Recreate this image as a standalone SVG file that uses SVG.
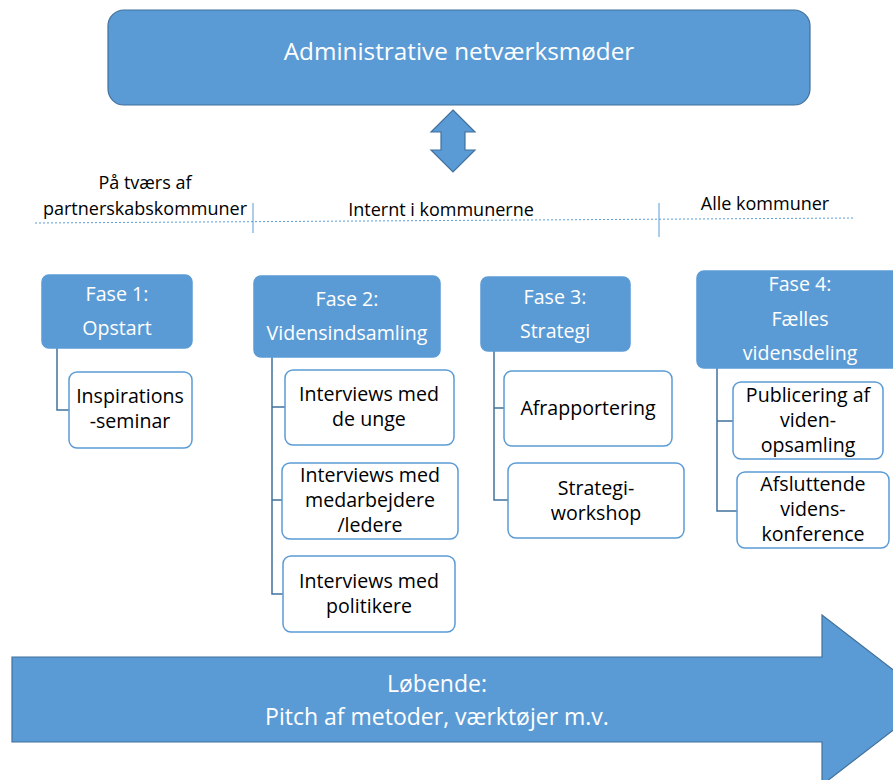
<svg xmlns="http://www.w3.org/2000/svg" width="893" height="780" viewBox="0 0 893 780">
<style>
.phase{fill:#5B9BD5;stroke:#5B9BD5;stroke-width:1.5}
.item{fill:#FFFFFF;stroke:#5B9BD5;stroke-width:1.5}
.big{fill:#5B9BD5;stroke:#41719C;stroke-width:1.2}
.wt{fill:#FFFFFF;font-family:"Open Sans","Liberation Sans",sans-serif;text-anchor:middle}
.bt{fill:#000000;font-family:"Open Sans","Liberation Sans",sans-serif;text-anchor:middle;font-size:19.6px}
.lbl{fill:#000000;font-family:"Open Sans","Liberation Sans",sans-serif;text-anchor:middle;font-size:18px}
.conn{fill:none;stroke:#41719C;stroke-width:1.5}
.sep{fill:none;stroke:#5B9BD5;stroke-width:1}
.dash{fill:none;stroke:#5B9BD5;stroke-width:1;stroke-dasharray:2 2}
</style>
<g id="top">
<rect class="big" x="108" y="10" width="702" height="95" rx="16"/>
<text class="wt" x="459" y="60" font-size="24.3">Administrative netværksmøder</text>
</g>
<g id="dblarrow">
<polygon class="big" points="453,110 475,132 465,132 465,150 475,150 453,172 431,150 441,150 441,132 431,132"/>
</g>
<g id="labels">
<text class="lbl" x="145" y="189">På tværs af</text>
<text class="lbl" x="145" y="215">partnerskabskommuner</text>
<text class="lbl" x="441" y="216">Internt i kommunerne</text>
<text class="lbl" x="765" y="210">Alle kommuner</text>
<path class="dash" d="M35,223 L855,218"/>
<path class="sep" d="M253,203 V233 M659,203 V237"/>
</g>
<g id="connectors">
<path class="conn" d="M57,348 V410 H69"/>
<path class="conn" d="M272,357 V594 H283 M272,407 H285 M272,500 H282"/>
<path class="conn" d="M494,351 V500 H508 M494,408 H504"/>
<path class="conn" d="M717,368 V511 H737 M717,421 H733"/>
</g>
<g id="fase1">
<rect class="phase" x="42" y="275" width="150" height="73" rx="7"/>
<text class="wt" x="117" y="301" font-size="19.6">Fase 1:</text>
<text class="wt" x="117" y="335" font-size="19.6">Opstart</text>
</g>
<g id="inspiration">
<rect class="item" x="69" y="372" width="123" height="76" rx="8"/>
<text class="bt" x="130" y="403">Inspirations</text>
<text class="bt" x="130" y="428">-seminar</text>
</g>
<g id="fase2">
<rect class="phase" x="254" y="276" width="186" height="81" rx="7"/>
<text class="wt" x="347" y="306" font-size="19.6">Fase 2:</text>
<text class="wt" x="347" y="340" font-size="19.6">Vidensindsamling</text>
</g>
<g id="unge">
<rect class="item" x="285" y="370" width="169" height="75" rx="8"/>
<text class="bt" x="369" y="401">Interviews med</text>
<text class="bt" x="369" y="426">de unge</text>
</g>
<g id="medarbejdere">
<rect class="item" x="282" y="463" width="176" height="76" rx="8"/>
<text class="bt" x="370" y="482">Interviews med</text>
<text class="bt" x="370" y="507">medarbejdere</text>
<text class="bt" x="370" y="532">/ledere</text>
</g>
<g id="politikere">
<rect class="item" x="283" y="556" width="172" height="76" rx="8"/>
<text class="bt" x="369" y="588">Interviews med</text>
<text class="bt" x="369" y="613">politikere</text>
</g>
<g id="fase3">
<rect class="phase" x="481" y="277" width="149" height="74" rx="7"/>
<text class="wt" x="555" y="304" font-size="19.6">Fase 3:</text>
<text class="wt" x="555" y="338" font-size="19.6">Strategi</text>
</g>
<g id="afrapportering">
<rect class="item" x="504" y="371" width="168" height="75" rx="8"/>
<text class="bt" x="588" y="415">Afrapportering</text>
</g>
<g id="workshop">
<rect class="item" x="508" y="463" width="176" height="75" rx="8"/>
<text class="bt" x="596" y="495">Strategi-</text>
<text class="bt" x="596" y="520">workshop</text>
</g>
<g id="fase4">
<rect class="phase" x="697" y="271" width="210" height="97" rx="7"/>
<text class="wt" x="800" y="291" font-size="19.6">Fase 4:</text>
<text class="wt" x="800" y="326" font-size="19.6">Fælles</text>
<text class="wt" x="800" y="360" font-size="19.6">vidensdeling</text>
</g>
<g id="publicering">
<rect class="item" x="733" y="382" width="150" height="77" rx="8"/>
<text class="bt" x="808" y="402">Publicering af</text>
<text class="bt" x="808" y="427">viden-</text>
<text class="bt" x="808" y="452">opsamling</text>
</g>
<g id="konference">
<rect class="item" x="737" y="472" width="152" height="76" rx="8"/>
<text class="bt" x="813" y="491">Afsluttende</text>
<text class="bt" x="813" y="516">videns-</text>
<text class="bt" x="813" y="541">konference</text>
</g>
<g id="lobende">
<polygon class="big" points="12,657 822,657 822,615 932,700 822,785 822,742 12,742"/>
<text class="wt" x="437" y="692" font-size="23">Løbende:</text>
<text class="wt" x="437" y="725" font-size="23">Pitch af metoder, værktøjer m.v.</text>
</g>
</svg>
